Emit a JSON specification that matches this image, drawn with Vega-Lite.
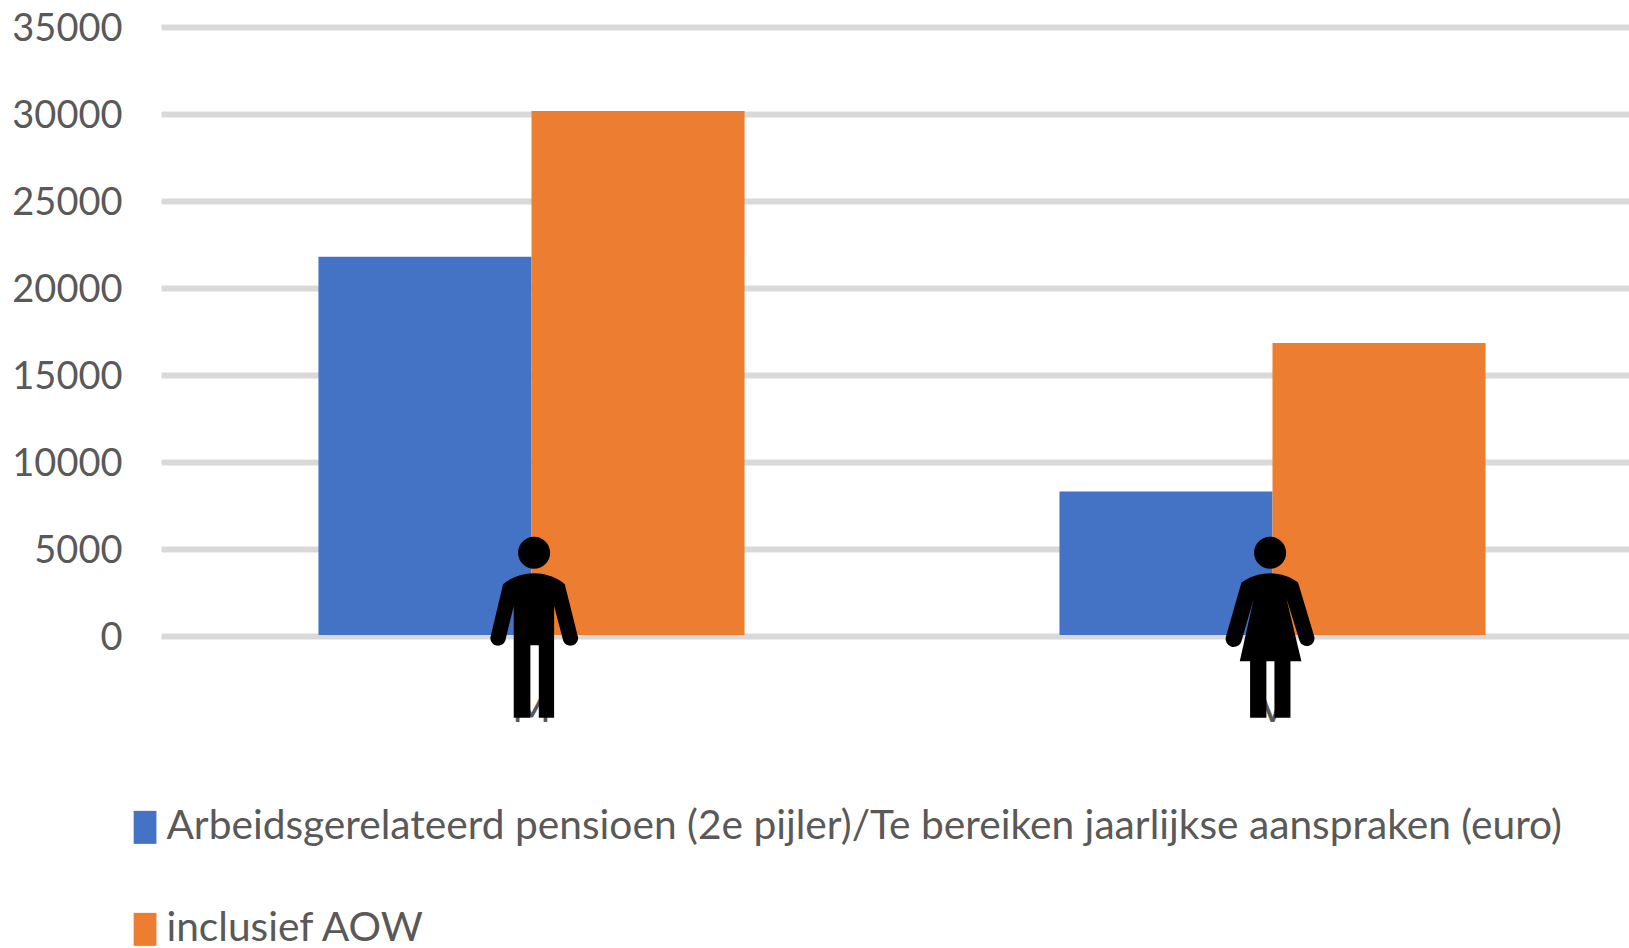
{"$schema":"https://vega.github.io/schema/vega-lite/v6.json","width":1468,"height":609,"autosize":{"type":"none"},"padding":{"left":161,"top":27,"right":0,"bottom":312},"background":"white","data":{"values":[{"geslacht":"M","reeks":"Arbeidsgerelateerd pensioen (2e pijler)/Te bereiken jaarlijkse aanspraken (euro)","waarde":21800},{"geslacht":"M","reeks":"inclusief AOW","waarde":30170},{"geslacht":"V","reeks":"Arbeidsgerelateerd pensioen (2e pijler)/Te bereiken jaarlijkse aanspraken (euro)","waarde":8300},{"geslacht":"V","reeks":"inclusief AOW","waarde":16840}]},"config":{"view":{"stroke":null},"font":"Lato"},"encoding":{"x":{"field":"geslacht","type":"nominal","scale":{"domain":["M","V"],"range":[0,1482],"paddingInner":0.425,"paddingOuter":0.2125},"axis":{"title":null,"domain":false,"ticks":false,"labelAngle":0,"labelFontSize":42,"labelColor":"#595959","labelPadding":52,"labelFont":"Lato","grid":false}}},"layer":[{"mark":{"type":"bar"},"encoding":{"xOffset":{"field":"reeks","type":"nominal","scale":{"domain":["Arbeidsgerelateerd pensioen (2e pijler)/Te bereiken jaarlijkse aanspraken (euro)","inclusief AOW"],"paddingInner":0,"paddingOuter":0}},"y":{"field":"waarde","type":"quantitative","scale":{"domain":[0,35000],"nice":false},"axis":{"title":null,"values":[0,5000,10000,15000,20000,25000,30000,35000],"format":"d","domain":false,"ticks":false,"labelFontSize":38,"labelColor":"#595959","labelPadding":39,"labelOffset":2.5,"labelFont":"Lato","grid":true,"gridColor":"#d9d9d9","gridWidth":6}},"y2":{"datum":60},"color":{"field":"reeks","type":"nominal","scale":{"domain":["Arbeidsgerelateerd pensioen (2e pijler)/Te bereiken jaarlijkse aanspraken (euro)","inclusief AOW"],"range":["#4472c4","#ed7d31"]},"legend":{"title":null,"orient":"none","legendX":-36.3,"legendY":780,"direction":"vertical","columns":1,"symbolType":"M-0.69,-1H0.69V1H-0.69Z","symbolSize":1089,"symbolStrokeWidth":0,"symbolOpacity":1,"labelFontSize":40.7,"labelColor":"#595959","labelFont":"Lato","labelLimit":1600,"labelOffset":1,"rowPadding":60}}}},{"transform":[{"filter":"datum.reeks === 'inclusief AOW' && datum.geslacht === 'M'"}],"mark":{"type":"point","filled":true,"color":"black","opacity":1,"size":32761,"xOffset":2.6,"shape":"M0,-0.595C0.14,-0.595 0.27,-0.54 0.339,-0.473L0.486,0.116A0.085,0.085 0 0 1 0.32,0.145L0.221,-0.234V1H0.052V0.201H-0.041V1H-0.225V-0.234L-0.317,0.145A0.085,0.085 0 0 1 -0.483,0.116L-0.343,-0.473C-0.27,-0.54 -0.14,-0.595 0,-0.595ZM-0.177,-0.823A0.177,0.177 0 1 1 0.177,-0.823A0.177,0.177 0 1 1 -0.177,-0.823Z"},"encoding":{"y":{"datum":510}}},{"transform":[{"filter":"datum.reeks === 'inclusief AOW' && datum.geslacht === 'V'"}],"mark":{"type":"point","filled":true,"color":"black","opacity":1,"size":32761,"xOffset":-2.4,"shape":"M0,-0.595C0.12,-0.595 0.24,-0.55 0.309,-0.492L0.486,0.098A0.085,0.085 0 0 1 0.328,0.16L0.18,-0.319L0.346,0.378H0.225V1H0.048V0.378H-0.041V1H-0.221V0.378H-0.335L-0.18,-0.319L-0.317,0.16A0.085,0.085 0 0 1 -0.486,0.098L-0.317,-0.492C-0.24,-0.55 -0.12,-0.595 0,-0.595ZM-0.177,-0.823A0.177,0.177 0 1 1 0.177,-0.823A0.177,0.177 0 1 1 -0.177,-0.823Z"},"encoding":{"y":{"datum":510}}}]}
